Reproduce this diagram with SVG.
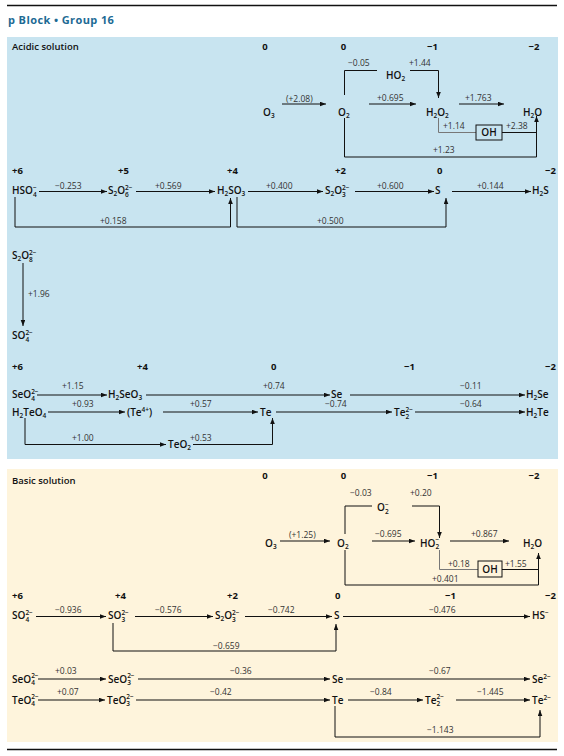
<svg xmlns="http://www.w3.org/2000/svg" width="564" height="756" viewBox="0 0 564 756">
<style>
text{font-family:"Open Sans","Liberation Sans",sans-serif;}
.ttl{font-size:11px;font-weight:700;fill:#1d6a94;letter-spacing:0.4px;}
.hd{font-size:9.5px;font-weight:600;fill:#111;}
.ox{font-size:9.5px;font-weight:700;fill:#111;}
.sp{font-size:10px;font-weight:600;fill:#111;}
.pt{font-size:8.5px;fill:#333;}
.s{font-size:6.5px;}
.ln{fill:none;stroke:#111;stroke-width:1;}
.gl{fill:none;stroke:#777;stroke-width:1;}
.ar{marker-end:url(#a);}
.box{fill:none;stroke:#111;stroke-width:1;}
</style>
<defs>
<marker id="a" markerWidth="6" markerHeight="5" refX="6" refY="2.3" orient="auto" markerUnits="userSpaceOnUse"><path d="M0,0 L6,2.3 L0,4.6 z" fill="#111"/></marker>
</defs>
<line x1="7" y1="5.5" x2="557" y2="5.5" stroke="#111" stroke-width="1.3"/>
<text class="ttl" x="8" y="24">p Block • Group 16</text>
<rect x="7" y="37" width="551" height="422" fill="#c8e4f0"/>
<rect x="7" y="469" width="551" height="273" fill="#fef4dc"/>
<line x1="7" y1="749.5" x2="557" y2="749.5" stroke="#111" stroke-width="1.3"/>

<g id="connectors">
<line class="ln ar" x1="282" y1="104" x2="326" y2="104"/>
<line class="ln ar" x1="369" y1="104" x2="416" y2="104"/>
<line class="ln ar" x1="459" y1="104" x2="504" y2="104"/>
<polyline class="ln" points="344.5,95 344.5,70.5 377,70.5"/>
<polyline class="ln ar" points="410,70.5 438.5,70.5 438.5,98"/>
<polyline class="gl" points="438.5,118 438.5,132.5 476,132.5"/>
<line class="ln" x1="502" y1="132.5" x2="536.5" y2="132.5"/>
<polyline class="ln ar" points="344.5,118 344.5,157 536.5,157 536.5,116"/>
<line class="ln ar" x1="39" y1="191.5" x2="107" y2="191.5"/>
<line class="ln ar" x1="136" y1="191.5" x2="215" y2="191.5"/>
<line class="ln ar" x1="248" y1="191.5" x2="323" y2="191.5"/>
<line class="ln ar" x1="355" y1="191.5" x2="434" y2="191.5"/>
<line class="ln ar" x1="452" y1="191.5" x2="531" y2="191.5"/>
<polyline class="ln ar" points="15,197 15,227 230.5,227 230.5,198"/>
<polyline class="ln ar" points="237,197 237,227 446,227 446,198"/>
<line class="ln ar" x1="23" y1="263" x2="23" y2="326"/>
<line class="ln ar" x1="37" y1="395" x2="107" y2="395"/>
<line class="ln ar" x1="146" y1="395" x2="330" y2="395"/>
<line class="ln ar" x1="350" y1="395" x2="525" y2="395"/>
<line class="ln ar" x1="48" y1="412" x2="125" y2="412"/>
<line class="ln ar" x1="163" y1="412" x2="258" y2="412"/>
<line class="ln ar" x1="276" y1="412" x2="392" y2="412"/>
<line class="ln ar" x1="415" y1="412" x2="525" y2="412"/>
<polyline class="ln ar" points="25,418 25,444.5 166,444.5"/>
<polyline class="ln ar" points="193,444.5 272.5,444.5 272.5,418"/>
<line class="ln ar" x1="280" y1="541" x2="330" y2="541"/>
<line class="ln ar" x1="372" y1="541" x2="415" y2="541"/>
<line class="ln ar" x1="450" y1="541" x2="509" y2="541"/>
<polyline class="ln" points="345,534 345,506 372,506"/>
<polyline class="ln ar" points="412,506 439.5,506 439.5,538"/>
<polyline class="gl" points="439.5,550 439.5,569.5 478,569.5"/>
<line class="ln" x1="502" y1="569.5" x2="538.5" y2="569.5"/>
<polyline class="ln ar" points="345,550 345,585 538.5,585 538.5,553"/>
<line class="ln ar" x1="36" y1="616.5" x2="106" y2="616.5"/>
<line class="ln ar" x1="135" y1="616.5" x2="213" y2="616.5"/>
<line class="ln ar" x1="245" y1="616.5" x2="332" y2="616.5"/>
<line class="ln ar" x1="343" y1="616.5" x2="530" y2="616.5"/>
<polyline class="ln ar" points="113,623 113,651 336,651 336,624"/>
<line class="ln ar" x1="38" y1="679" x2="106" y2="679"/>
<line class="ln ar" x1="138" y1="679" x2="330" y2="679"/>
<line class="ln ar" x1="346" y1="679" x2="530" y2="679"/>
<line class="ln ar" x1="38" y1="700" x2="105" y2="700"/>
<line class="ln ar" x1="136" y1="700" x2="330" y2="700"/>
<line class="ln ar" x1="348" y1="700" x2="423" y2="700"/>
<line class="ln ar" x1="456" y1="700" x2="530" y2="700"/>
<polyline class="ln ar" points="335,706 335,737 540,737 540,710"/>
</g>

<g id="labels">
<text class="hd" x="12" y="49.5">Acidic solution</text>
<text class="ox" x="265" y="49.5" text-anchor="middle">0</text>
<text class="ox" x="343.5" y="49.5" text-anchor="middle">0</text>
<text class="ox" x="432.5" y="49.5" text-anchor="middle">−1</text>
<text class="ox" x="534" y="49.5" text-anchor="middle">−2</text>
<text class="pt" x="348" y="65.5">−0.05</text>
<text class="pt" x="409" y="65.5">+1.44</text>
<text class="pt" x="286" y="101.5">(+2.08)</text>
<text class="pt" x="377" y="100.5">+0.695</text>
<text class="pt" x="465" y="100.5">+1.763</text>
<text class="pt" x="443" y="129">+1.14</text>
<text class="pt" x="506" y="129">+2.38</text>
<text class="pt" x="433" y="153">+1.23</text>
<text class="ox" x="12" y="174">+6</text>
<text class="ox" x="118" y="174">+5</text>
<text class="ox" x="227" y="174">+4</text>
<text class="ox" x="335" y="174">+2</text>
<text class="ox" x="437" y="174">0</text>
<text class="ox" x="545" y="174">−2</text>
<text class="pt" x="55" y="189">−0.253</text>
<text class="pt" x="155" y="189">+0.569</text>
<text class="pt" x="266" y="189">+0.400</text>
<text class="pt" x="377" y="189">+0.600</text>
<text class="pt" x="477" y="189">+0.144</text>
<text class="pt" x="100" y="224">+0.158</text>
<text class="pt" x="317" y="224">+0.500</text>
<text class="pt" x="28" y="296.5">+1.96</text>
<text class="ox" x="12" y="370">+6</text>
<text class="ox" x="137" y="370">+4</text>
<text class="ox" x="271" y="370">0</text>
<text class="ox" x="404" y="370">−1</text>
<text class="ox" x="545" y="370">−2</text>
<text class="pt" x="62" y="389">+1.15</text>
<text class="pt" x="263" y="389">+0.74</text>
<text class="pt" x="460" y="389">−0.11</text>
<text class="pt" x="72" y="406.5">+0.93</text>
<text class="pt" x="190" y="406.5">+0.57</text>
<text class="pt" x="325" y="406.5">−0.74</text>
<text class="pt" x="460" y="406.5">−0.64</text>
<text class="pt" x="72" y="440.5">+1.00</text>
<text class="pt" x="190" y="440.5">+0.53</text>
<text class="hd" x="12" y="483.5">Basic solution</text>
<text class="ox" x="265" y="479" text-anchor="middle">0</text>
<text class="ox" x="343.5" y="479" text-anchor="middle">0</text>
<text class="ox" x="432.5" y="479" text-anchor="middle">−1</text>
<text class="ox" x="534" y="479" text-anchor="middle">−2</text>
<text class="pt" x="350" y="496">−0.03</text>
<text class="pt" x="410" y="496">+0.20</text>
<text class="pt" x="289" y="538">(+1.25)</text>
<text class="pt" x="375" y="537">−0.695</text>
<text class="pt" x="471" y="537">+0.867</text>
<text class="pt" x="448" y="566.5">+0.18</text>
<text class="pt" x="505" y="566.5">+1.55</text>
<text class="pt" x="432" y="582">+0.401</text>
<text class="ox" x="12" y="598.5">+6</text>
<text class="ox" x="115" y="598.5">+4</text>
<text class="ox" x="227" y="598.5">+2</text>
<text class="ox" x="335" y="598.5">0</text>
<text class="ox" x="445" y="598.5">−1</text>
<text class="ox" x="545" y="598.5">−2</text>
<text class="pt" x="55" y="613">−0.936</text>
<text class="pt" x="155" y="613">−0.576</text>
<text class="pt" x="268" y="613">−0.742</text>
<text class="pt" x="429" y="613">−0.476</text>
<text class="pt" x="213" y="648.5">−0.659</text>
<text class="pt" x="55" y="674">+0.03</text>
<text class="pt" x="230" y="674">−0.36</text>
<text class="pt" x="429" y="674">−0.67</text>
<text class="pt" x="57" y="694.5">+0.07</text>
<text class="pt" x="210" y="694.5">−0.42</text>
<text class="pt" x="370" y="694.5">−0.84</text>
<text class="pt" x="477" y="694.5">−1.445</text>
<text class="pt" x="427" y="733">−1.143</text>
</g>

<g id="a-O3"><text class="sp" x="263" y="116">O<tspan class="s" dy="2">3</tspan></text></g>
<g id="a-O2"><text class="sp" x="338" y="116">O<tspan class="s" dy="2">2</tspan></text></g>
<g id="a-HO2"><text class="sp" x="386" y="78.5">HO<tspan class="s" dy="2">2</tspan></text></g>
<g id="a-H2O2"><text class="sp" x="426" y="116">H<tspan class="s" dy="2">2</tspan><tspan dy="-2">O</tspan><tspan class="s" dy="2">2</tspan></text></g>
<g id="a-H2O"><text class="sp" x="523" y="116">H<tspan class="s" dy="2">2</tspan><tspan dy="-2">O</tspan></text></g>
<g id="a-OH"><rect class="box" x="476" y="125" width="26" height="15"/><text class="sp" x="489" y="136" text-anchor="middle">OH</text></g>
<g id="a-HSO4"><text class="sp" x="12" y="194">HSO<tspan class="s" dy="2.5">4</tspan><tspan class="s" dx="-3.7" dy="-7">−</tspan></text></g>
<g id="a-S2O6"><text class="sp" x="108" y="194">S<tspan class="s" dy="2">2</tspan><tspan dy="-2">O</tspan><tspan class="s" dy="2.5">6</tspan><tspan class="s" dx="-3.7" dy="-7">2−</tspan></text></g>
<g id="a-H2SO3"><text class="sp" x="217" y="194">H<tspan class="s" dy="2">2</tspan><tspan dy="-2">SO</tspan><tspan class="s" dy="2">3</tspan></text></g>
<g id="a-S2O3"><text class="sp" x="325" y="194">S<tspan class="s" dy="2">2</tspan><tspan dy="-2">O</tspan><tspan class="s" dy="2.5">3</tspan><tspan class="s" dx="-3.7" dy="-7">2−</tspan></text></g>
<g id="a-S"><text class="sp" x="435" y="194">S</text></g>
<g id="a-H2S"><text class="sp" x="532" y="194">H<tspan class="s" dy="2">2</tspan><tspan dy="-2">S</tspan></text></g>
<g id="a-S2O8"><text class="sp" x="12" y="259">S<tspan class="s" dy="2">2</tspan><tspan dy="-2">O</tspan><tspan class="s" dy="2.5">8</tspan><tspan class="s" dx="-3.7" dy="-7">2−</tspan></text></g>
<g id="a-SO4"><text class="sp" x="12" y="339">SO<tspan class="s" dy="2.5">4</tspan><tspan class="s" dx="-3.7" dy="-7">2−</tspan></text></g>
<g id="a-SeO4"><text class="sp" x="12" y="398">SeO<tspan class="s" dy="2.5">4</tspan><tspan class="s" dx="-3.7" dy="-7">2−</tspan></text></g>
<g id="a-H2SeO3"><text class="sp" x="108" y="398">H<tspan class="s" dy="2">2</tspan><tspan dy="-2">SeO</tspan><tspan class="s" dy="2">3</tspan></text></g>
<g id="a-Se"><text class="sp" x="331" y="398">Se</text></g>
<g id="a-H2Se"><text class="sp" x="526" y="398">H<tspan class="s" dy="2">2</tspan><tspan dy="-2">Se</tspan></text></g>
<g id="a-H2TeO4"><text class="sp" x="12" y="416">H<tspan class="s" dy="2">2</tspan><tspan dy="-2">TeO</tspan><tspan class="s" dy="2">4</tspan></text></g>
<g id="a-Te4"><text class="sp" x="127" y="416">(Te<tspan class="s" dy="-4">4+</tspan><tspan dy="4">)</tspan></text></g>
<g id="a-Te"><text class="sp" x="260" y="416">Te</text></g>
<g id="a-Te2"><text class="sp" x="394" y="416">Te<tspan class="s" dy="2.5">2</tspan><tspan class="s" dx="-3.7" dy="-7">2−</tspan></text></g>
<g id="a-H2Te"><text class="sp" x="526" y="416">H<tspan class="s" dy="2">2</tspan><tspan dy="-2">Te</tspan></text></g>
<g id="a-TeO2"><text class="sp" x="168" y="447.5">TeO<tspan class="s" dy="2">2</tspan></text></g>
<g id="b-O3"><text class="sp" x="265" y="546.5">O<tspan class="s" dy="2">3</tspan></text></g>
<g id="b-O2"><text class="sp" x="337" y="546.5">O<tspan class="s" dy="2">2</tspan></text></g>
<g id="b-O2m"><text class="sp" x="377" y="511">O<tspan class="s" dy="2.5">2</tspan><tspan class="s" dx="-3.7" dy="-7">−</tspan></text></g>
<g id="b-HO2"><text class="sp" x="420" y="546.5">HO<tspan class="s" dy="2.5">2</tspan><tspan class="s" dx="-3.7" dy="-7">−</tspan></text></g>
<g id="b-H2O"><text class="sp" x="523" y="546.5">H<tspan class="s" dy="2">2</tspan><tspan dy="-2">O</tspan></text></g>
<g id="b-OH"><rect class="box" x="478" y="561" width="24" height="16"/><text class="sp" x="490" y="572.5" text-anchor="middle">OH</text></g>
<g id="b-SO4"><text class="sp" x="12" y="619">SO<tspan class="s" dy="2.5">4</tspan><tspan class="s" dx="-3.7" dy="-7">2−</tspan></text></g>
<g id="b-SO3"><text class="sp" x="108" y="619">SO<tspan class="s" dy="2.5">3</tspan><tspan class="s" dx="-3.7" dy="-7">2−</tspan></text></g>
<g id="b-S2O3"><text class="sp" x="215" y="619">S<tspan class="s" dy="2">2</tspan><tspan dy="-2">O</tspan><tspan class="s" dy="2.5">3</tspan><tspan class="s" dx="-3.7" dy="-7">2−</tspan></text></g>
<g id="b-S"><text class="sp" x="334" y="619">S</text></g>
<g id="b-HS"><text class="sp" x="532" y="619">HS<tspan class="s" dy="-4">−</tspan></text></g>
<g id="b-SeO4"><text class="sp" x="12" y="682.5">SeO<tspan class="s" dy="2.5">4</tspan><tspan class="s" dx="-3.7" dy="-7">2−</tspan></text></g>
<g id="b-SeO3"><text class="sp" x="108" y="682.5">SeO<tspan class="s" dy="2.5">3</tspan><tspan class="s" dx="-3.7" dy="-7">2−</tspan></text></g>
<g id="b-Se"><text class="sp" x="332" y="682.5">Se</text></g>
<g id="b-Se2"><text class="sp" x="532" y="682.5">Se<tspan class="s" dy="-4">2−</tspan></text></g>
<g id="b-TeO4"><text class="sp" x="12" y="703.5">TeO<tspan class="s" dy="2.5">4</tspan><tspan class="s" dx="-3.7" dy="-7">2−</tspan></text></g>
<g id="b-TeO3"><text class="sp" x="107" y="703.5">TeO<tspan class="s" dy="2.5">3</tspan><tspan class="s" dx="-3.7" dy="-7">2−</tspan></text></g>
<g id="b-Te"><text class="sp" x="332" y="703.5">Te</text></g>
<g id="b-Te2"><text class="sp" x="425" y="703.5">Te<tspan class="s" dy="2.5">2</tspan><tspan class="s" dx="-3.7" dy="-7">2−</tspan></text></g>
<g id="b-Te2m"><text class="sp" x="532" y="703.5">Te<tspan class="s" dy="-4">2−</tspan></text></g>
</svg>
